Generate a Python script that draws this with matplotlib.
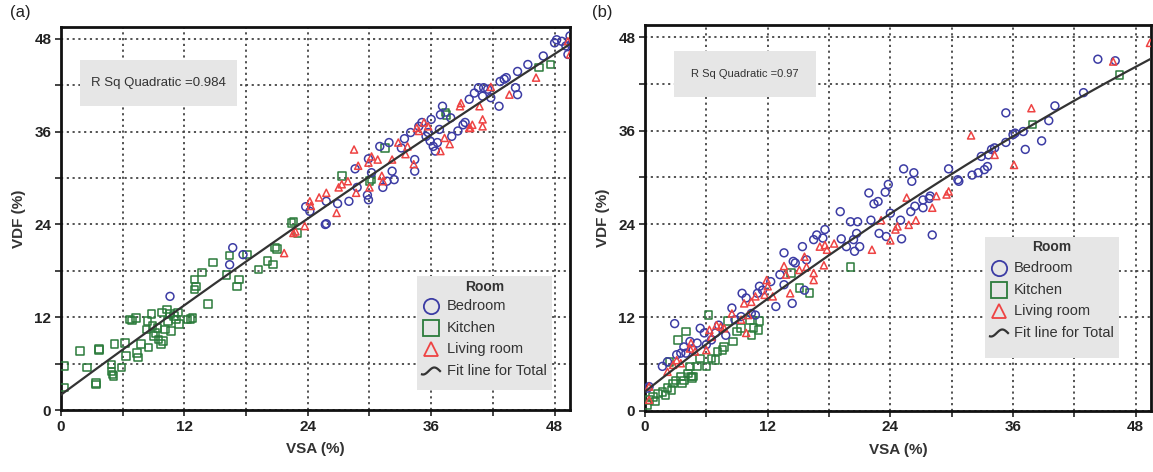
import numpy as np
import matplotlib
matplotlib.use("Agg")
import matplotlib.pyplot as plt
from matplotlib.lines import Line2D
from matplotlib.patches import Rectangle

plt.rcParams['font.family'] = ['Liberation Sans', 'DejaVu Sans']

# ---------------- Panel (a) data ----------------
a_kitchen_x = [0.3, 0.3, 1.85, 2.5, 3.4, 3.4, 3.7, 3.7, 4.9, 4.9, 5.0, 5.1, 5.2, 5.9, 6.2, 6.3,
               6.7, 6.9, 7.3, 7.4, 7.5, 7.8, 8.3, 8.5, 8.4, 8.8, 8.9, 9.0, 9.2, 9.4, 9.5, 9.7,
               9.8, 9.9, 10.1, 10.3, 10.4, 10.6, 10.7, 11.0, 11.2, 11.4, 11.5, 12.3, 12.6, 12.8,
               13.0, 13.1, 13.0, 13.7, 14.3, 14.8, 16.1, 16.4, 17.1, 17.3, 18.1, 19.2, 20.1, 20.6,
               20.8, 21.0, 22.4, 22.6, 23.0, 27.3, 30.0, 30.2, 31.5, 37.4, 37.5, 46.5, 47.6]
a_kitchen_y = [5.7, 2.9, 7.6, 5.5, 3.3, 3.5, 7.9, 7.8, 5.9, 5.0, 4.6, 4.4, 8.5, 5.5, 8.7, 7.0,
               11.7, 11.6, 11.9, 7.4, 6.8, 8.5, 10.4, 8.1, 11.5, 12.4, 10.9, 9.6, 10.0, 10.6, 9.1, 8.5,
               12.6, 8.9, 10.4, 13.0, 11.5, 12.4, 10.2, 12.2, 11.7, 12.6, 11.1, 11.7, 11.8, 11.9,
               15.6, 16.0, 16.9, 17.8, 13.7, 19.1, 17.5, 20.0, 16.0, 16.9, 20.1, 18.2, 19.3, 18.8,
               21.0, 20.8, 24.2, 24.4, 22.9, 30.3, 29.6, 29.8, 33.9, 38.5, 38.2, 44.3, 44.7]

a_bedroom_x = [10.6, 16.7, 16.4, 17.7, 23.8, 24.2, 25.7, 25.8, 25.8, 26.9, 28.0, 28.6, 28.8, 29.8,
               29.9, 29.9, 30.2, 31.0, 31.3, 31.7, 31.9, 32.2, 32.4, 33.1, 33.4, 34.0, 34.4, 34.4,
               34.8, 35.1, 35.5, 35.7, 35.9, 36.0, 36.2, 36.4, 36.6, 36.8, 36.9, 37.1, 37.9, 38.0,
               38.6, 39.1, 39.3, 39.7, 40.2, 40.6, 41.0, 41.1, 41.5, 41.8, 42.6, 42.7, 43.1, 43.3,
               44.2, 44.4, 44.4, 45.4, 46.9, 48.0, 48.2, 48.7, 49.1, 49.5, 49.6, 49.3]
a_bedroom_y = [14.7, 21.0, 18.8, 20.1, 26.3, 25.7, 24.0, 24.1, 27.0, 26.7, 27.0, 31.2, 28.8, 27.8,
               27.2, 32.5, 30.7, 34.1, 28.8, 29.6, 34.6, 30.9, 29.8, 33.9, 35.1, 35.9, 32.4, 30.9,
               36.7, 37.2, 35.4, 35.9, 34.8, 37.6, 34.1, 33.5, 34.6, 36.3, 38.2, 39.3, 37.8, 35.4,
               36.1, 36.9, 37.2, 40.2, 41.0, 41.7, 40.6, 41.7, 41.5, 40.4, 39.3, 42.5, 42.8, 43.0,
               41.7, 40.8, 43.8, 44.7, 45.8, 47.5, 47.9, 47.7, 47.1, 48.4, 47.3, 46.0]

a_living_x = [21.7, 22.6, 22.8, 23.7, 24.2, 24.3, 25.1, 25.8, 26.8, 27.0, 27.3, 27.9, 28.5, 28.7,
              28.9, 29.9, 30.0, 30.2, 30.8, 31.2, 31.3, 32.2, 32.8, 33.5, 33.7, 34.3, 34.6, 34.8,
              35.3, 35.7, 36.9, 37.3, 37.8, 38.8, 38.9, 39.7, 39.8, 40.0, 40.7, 41.0, 41.0, 41.8,
              43.6, 46.2, 49.3, 49.5]
a_living_y = [20.3, 22.9, 23.1, 23.8, 27.0, 26.4, 27.5, 28.1, 25.5, 28.8, 29.2, 29.6, 33.7, 28.1,
              31.6, 32.0, 28.8, 32.8, 32.4, 30.3, 29.6, 32.4, 34.6, 33.1, 34.1, 31.8, 36.5, 36.1,
              37.2, 36.7, 33.5, 35.2, 34.4, 39.3, 39.7, 36.5, 36.5, 36.9, 39.3, 37.6, 36.7, 41.8,
              40.8, 43.0, 47.7, 46.0]

# ---------------- Panel (b) data ----------------
b_bedroom_x = [0.25, 0.4, 1.7, 2.2, 2.9, 3.1, 3.5, 3.8, 4.0, 4.4, 4.7, 5.1, 5.4, 5.8, 6.0, 6.5, 6.9,
               7.2, 7.9, 8.5, 8.8, 9.4, 9.5, 9.9, 10.4, 10.8, 11.0, 11.2, 11.5, 12.3, 12.8, 13.2,
               13.6, 13.6, 14.4, 14.5, 14.7, 15.4, 15.6, 15.8, 16.5, 16.8, 17.4, 17.6, 19.1, 19.2,
               19.7, 20.1, 20.4, 20.5, 20.7, 20.8, 21.0, 21.9, 22.1, 22.4, 22.8, 22.9, 23.5, 23.6,
               23.8, 24.0, 25.0, 25.1, 25.3, 26.0, 26.1, 26.3, 26.4, 27.2, 27.2, 27.8, 27.9, 28.1,
               29.7, 30.6, 30.7, 32.0, 32.6, 32.9, 33.2, 33.5, 33.6, 33.9, 34.2, 35.3, 35.3, 36.0,
               36.2, 37.0, 37.2, 38.8, 39.5, 40.1, 42.9, 44.3, 46.0]
b_bedroom_y = [2.9, 3.1, 5.7, 6.3, 11.2, 7.2, 7.4, 8.2, 7.4, 8.9, 7.8, 8.7, 10.6, 10.0, 8.5, 9.1, 10.0,
               11.0, 9.7, 13.2, 11.7, 12.1, 15.1, 14.5, 12.5, 12.3, 15.1, 16.0, 15.5, 16.6, 13.4, 17.5,
               20.3, 16.2, 13.8, 19.2, 19.0, 21.1, 15.5, 19.4, 22.0, 22.6, 22.2, 23.3, 25.6, 22.1,
               21.1, 24.3, 22.0, 20.5, 22.8, 24.3, 21.1, 28.0, 24.5, 26.6, 26.9, 22.8, 28.1, 22.4,
               29.1, 25.4, 24.5, 22.1, 31.1, 25.6, 29.5, 30.6, 26.3, 26.1, 27.1, 27.3, 27.6, 22.6,
               31.1, 29.7, 29.5, 30.3, 30.6, 32.7, 31.0, 31.4, 32.9, 33.6, 33.8, 38.3, 34.5, 35.5,
               35.7, 35.9, 33.6, 34.7, 37.3, 39.2, 40.9, 45.2, 45.0]

b_kitchen_x = [0.25, 0.4, 0.8, 1.0, 1.3, 1.7, 2.0, 2.2, 2.4, 2.6, 2.75, 3.0, 3.2, 3.5, 3.6, 3.8, 4.0,
               4.2, 4.4, 4.5, 4.6, 4.7, 5.1, 5.4, 6.0, 6.2, 6.5, 6.9, 7.1, 7.6, 7.75, 8.1, 8.6, 9.0,
               9.4, 10.3, 10.4, 10.6, 11.1, 11.2, 14.3, 15.1, 16.1, 20.1, 37.9, 46.4]
b_kitchen_y = [0.7, 1.4, 1.8, 1.2, 2.2, 2.4, 2.0, 2.9, 6.3, 2.7, 3.5, 3.9, 9.1, 4.4, 3.5, 3.9, 10.2,
               4.8, 5.7, 4.4, 4.2, 4.4, 5.7, 6.7, 5.7, 12.3, 6.7, 6.5, 7.6, 7.8, 8.2, 11.5, 8.9, 10.2,
               10.6, 11.7, 9.7, 10.6, 10.4, 11.5, 17.7, 15.8, 15.1, 18.5, 36.8, 43.2]

b_living_x = [0.4, 0.4, 2.2, 2.75, 3.1, 3.5, 4.4, 4.5, 4.9, 6.0, 6.3, 6.5, 7.0, 7.4, 7.75, 8.5, 9.4,
              9.7, 9.9, 10.1, 10.4, 10.8, 11.7, 11.9, 12.0, 12.5, 13.6, 13.8, 14.2, 15.1, 15.6, 15.8,
              16.5, 16.5, 17.1, 17.5, 17.6, 17.8, 18.5, 22.2, 23.1, 24.0, 24.5, 24.7, 25.6, 25.8,
              26.5, 28.1, 28.5, 29.5, 29.7, 31.9, 34.2, 36.1, 37.8, 45.8, 49.4]
b_living_y = [1.4, 3.1, 5.0, 5.9, 6.5, 6.1, 8.0, 8.7, 7.6, 7.8, 10.4, 9.5, 11.0, 10.8, 10.6, 12.5, 11.7,
              13.8, 10.0, 12.3, 14.0, 14.7, 14.9, 16.8, 16.0, 14.7, 18.6, 17.5, 15.1, 18.1, 19.8, 18.5,
              17.7, 16.8, 21.1, 18.7, 21.3, 20.7, 21.5, 20.7, 24.5, 21.9, 23.3, 23.7, 27.4, 23.9,
              24.5, 26.1, 27.6, 27.8, 28.2, 35.4, 32.9, 31.6, 38.9, 44.9, 47.3]

room_labels = ["Bedroom", "Kitchen", "Living room"]
fit_label = "Fit line for Total"
rsq_a = "R Sq Quadratic =0.984"
rsq_b = "R Sq Quadratic =0.97"
tick_values = [0, 12, 24, 36, 48]

C_BLUE = "#3c3ca4"
C_GREEN = "#2b7b3b"
C_RED = "#ee4343"
C_TXT = "#333333"

W, H = 1153, 472
fig = plt.figure(figsize=(W / 100, H / 100), dpi=100)


def fx(px):
    return px / W


def fy(py):
    return 1 - py / H


def make_axes(left_px, right_px, top_px, bottom_px, xmax, ymax):
    ax = fig.add_axes([fx(left_px), fy(bottom_px), fx(right_px) - fx(left_px), fy(top_px) - fy(bottom_px)])
    ax.set_xlim(0, xmax)
    ax.set_ylim(0, ymax)
    grid = np.arange(0, 49, 6)
    ax.set_xticks(grid)
    ax.set_yticks(grid)
    ax.set_xticklabels([str(v) if v in tick_values else "" for v in grid])
    ax.set_yticklabels([str(v) if v in tick_values else "" for v in grid])
    for lab in ax.get_xticklabels() + ax.get_yticklabels():
        lab.set_fontweight('bold')
        lab.set_fontsize(11)
        lab.set_color('#222222')
    ax.tick_params(direction='out', length=4, width=1.2, color='#222222', pad=3)
    ax.grid(True, color='#444444', linestyle=(0, (1.2, 2.0)), linewidth=1.3)
    ax.set_axisbelow(True)
    for s in ax.spines.values():
        s.set_linewidth(2.0)
        s.set_color('#111111')
    ax.set_xlabel("VSA (%)", fontsize=11, fontweight='bold', color=C_TXT, labelpad=6)
    ax.set_ylabel("VDF (%)", fontsize=11, fontweight='bold', color=C_TXT, labelpad=6)
    return ax


def scatter_panel(ax, bx, by, kx, ky, lx, ly, xmax):
    ax.scatter(kx, ky, marker='s', s=30, facecolors='none', edgecolors=C_GREEN, linewidths=1.1, zorder=3)
    ax.scatter(bx, by, marker='o', s=32, facecolors='none', edgecolors=C_BLUE, linewidths=1.1, zorder=3)
    ax.scatter(lx, ly, marker='^', s=26, facecolors='none', edgecolors=C_RED, linewidths=1.1, zorder=4)
    allx = np.concatenate([bx, kx, lx])
    ally = np.concatenate([by, ky, ly])
    coef = np.polyfit(allx, ally, 2)
    xs = np.linspace(0, xmax, 200)
    ax.plot(xs, np.polyval(coef, xs), color='#333333', linewidth=1.6, zorder=5)


def rsq_box(x0, y0, x1, y1, text, size):
    fig.add_artist(Rectangle((fx(x0), fy(y1)), fx(x1) - fx(x0), fy(y0) - fy(y1),
                             transform=fig.transFigure, facecolor='#e6e6e6', edgecolor='none', zorder=6))
    fig.text(fx((x0 + x1) / 2), fy((y0 + y1) / 2), text, ha='center', va='center',
             fontsize=size, color=C_TXT, zorder=7)


def legend_box(x0, y0, x1, y1, mx, tx, ys, size):
    fig.add_artist(Rectangle((fx(x0), fy(y1)), fx(x1) - fx(x0), fy(y0) - fy(y1),
                             transform=fig.transFigure, facecolor='#e6e6e6', edgecolor='none', zorder=6))
    fig.text(fx((x0 + x1) / 2), fy(ys[0]), "Room", ha='center', va='center', fontsize=size - 0.5,
             fontweight='bold', color=C_TXT, zorder=7)
    specs = [('o', C_BLUE, 11), ('s', C_GREEN, 11), ('^', C_RED, 10)]
    for (mk, col, ms), lab, yy in zip(specs, room_labels, ys[1:4]):
        fig.add_artist(Line2D([fx(mx)], [fy(yy)], marker=mk, markersize=ms, markerfacecolor='none',
                              markeredgecolor=col, markeredgewidth=1.3, transform=fig.transFigure, zorder=7))
        fig.text(fx(tx), fy(yy), lab, ha='left', va='center', fontsize=size, color=C_TXT, zorder=7)
    # tilde-shaped legend glyph for the fit line
    t = np.linspace(0, 1, 50)
    wx = mx - 9 + 18 * t
    wy = ys[4] - 3.5 * np.sin(2 * np.pi * 0.8 * t - np.pi / 2 - 0.3)
    fig.add_artist(Line2D(fx(wx), fy(wy), color='#333333', linewidth=1.6, transform=fig.transFigure, zorder=7))
    fig.text(fx(tx), fy(ys[4]), fit_label, ha='left', va='center', fontsize=size, color=C_TXT, zorder=7)


# Panel (a)
ax_a = make_axes(61, 570, 27, 410, 49.5, 49.55)
scatter_panel(ax_a, a_bedroom_x, a_bedroom_y, a_kitchen_x, a_kitchen_y, a_living_x, a_living_y, 49.5)
rsq_box(80, 60, 237, 106, rsq_a, 9.5)
legend_box(417, 276, 552, 390, 431, 447, [287, 306, 328, 349, 371], 10.5)
fig.text(fx(10), fy(12), "(a)", fontsize=12, color='#222222', va='center', ha='left')

# Panel (b)
ax_b = make_axes(645, 1151, 25, 410.7, 49.5, 49.6)
scatter_panel(ax_b, b_bedroom_x, b_bedroom_y, b_kitchen_x, b_kitchen_y, b_living_x, b_living_y, 49.5)
rsq_box(674, 51, 816, 97, rsq_b, 8)
legend_box(985, 237, 1119, 358, 999, 1014, [247, 268, 290, 311, 333], 10.5)
fig.text(fx(592), fy(12), "(b)", fontsize=12, color='#222222', va='center', ha='left')

fig.savefig("out.png", dpi=100)
